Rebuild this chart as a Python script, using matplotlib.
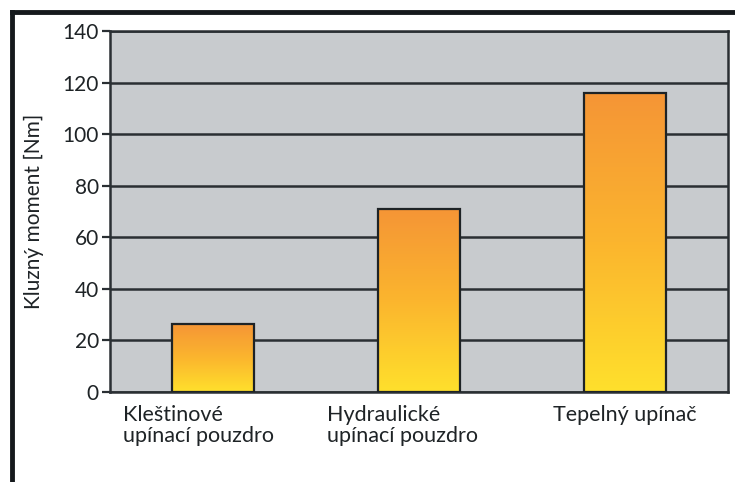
import numpy as np
import matplotlib
matplotlib.use("Agg")
import matplotlib.pyplot as plt
from matplotlib.colors import LinearSegmentedColormap
from matplotlib.lines import Line2D
import matplotlib.transforms as mtransforms

categories = ["Kleštinové\nupínací pouzdro", "Hydraulické\nupínací pouzdro", "Tepelný upínač"]
values = [26.5, 71, 116]
yticks = [0, 20, 40, 60, 80, 100, 120, 140]
ylabel = "Kluzný moment [Nm]"

plt.rcParams["font.family"] = ["Lato", "DejaVu Sans"]

fig = plt.figure(figsize=(7.35, 4.82), dpi=100)
ax = fig.add_axes([0.1497, 0.1867, 0.8408, 0.749])
ax.set_facecolor("#c8cbce")

grad = LinearSegmentedColormap.from_list("og", ["#ffe02c", "#fbb52e", "#f59536"])
x = np.arange(len(values))
bars = ax.bar(x, values, width=0.40, color="none", edgecolor="#1e2326", linewidth=1.6, zorder=3)
g = np.linspace(0, 1, 256).reshape(-1, 1)
for b in bars:
    x0, w, h = b.get_x(), b.get_width(), b.get_height()
    im = ax.imshow(g, cmap=grad, origin="lower", aspect="auto",
                   extent=[x0, x0 + w, 0, h], vmin=0, vmax=1, zorder=2)
    im.set_clip_path(b)

ax.set_xlim(-0.5, 2.5)
ax.set_ylim(0, 140)
ax.set_yticks(yticks)
ax.set_yticklabels([str(t) for t in yticks], fontsize=15, color="#1e2326")
ax.yaxis.grid(True, color="#2a2f33", linewidth=1.8, zorder=1)
ax.set_axisbelow(True)
ax.tick_params(axis="y", length=6, width=1.6, color="#2a2f33", pad=2)
ax.tick_params(axis="x", length=0, pad=9)
for s in ax.spines.values():
    s.set_color("#2a2f33")
    s.set_linewidth(1.8)

ax.set_xticks(x)
ax.set_xticklabels(categories, fontsize=15.5, color="#1e2326", ha="center",
                   multialignment="left", va="top", linespacing=1.1)
shifts = [-15, -17, 0]
for lab, dx in zip(ax.get_xticklabels(), shifts):
    lab.set_transform(lab.get_transform() + mtransforms.ScaledTranslation(dx / 100, 0, fig.dpi_scale_trans))

ax.set_ylabel(ylabel, fontsize=15, color="#1e2326")
ax.yaxis.set_label_coords(-0.107, 0.5)

# thick frame around the figure (cropped on right and bottom)
fig.add_artist(Line2D([12 / 735, 1.0], [1 - 12 / 482, 1 - 12 / 482],
                      transform=fig.transFigure, color="#15191c", linewidth=3.5))
fig.add_artist(Line2D([12 / 735, 12 / 735], [0.0, 1 - 12 / 482],
                      transform=fig.transFigure, color="#15191c", linewidth=3.5))

fig.savefig("out.png", dpi=100)
